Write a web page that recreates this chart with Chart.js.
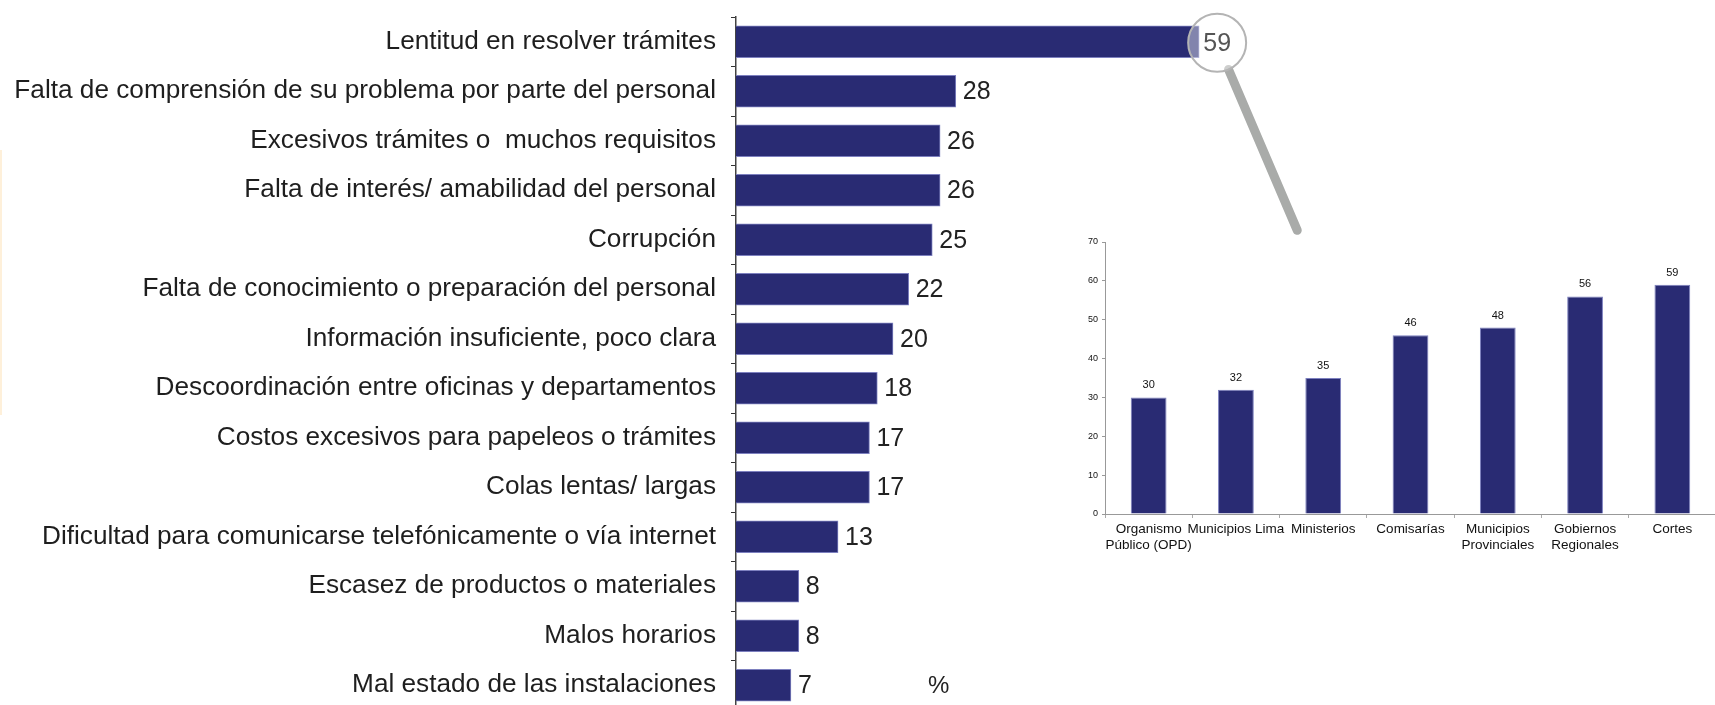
<!DOCTYPE html>
<html>
<head>
<meta charset="utf-8">
<script src="https://cdn.jsdelivr.net/npm/chart.js@4.4.0/dist/chart.umd.min.js"></script>
<style>
  html, body { margin: 0; padding: 0; background: #fff; overflow: hidden; width: 1715px; height: 705px; }
  #main { position: absolute; left: 0; top: 0; }
  #inset { position: absolute; left: 1040px; top: 225px; }
  #pct { position: absolute; left: 928px; top: 671px; font: 24px "Liberation Sans", Arial, sans-serif; color: #222; }
  #borde { position: absolute; left: 0; top: 150px; width: 2px; height: 265px; background: #fef0da; }
</style>
</head>
<body>
<div id="borde"></div>
<canvas id="main" width="1715" height="715"></canvas>
<canvas id="inset" width="700" height="330"></canvas>
<div id="pct">%</div>
<script>
// motivos de insatisfacción (%)
const motivos = [
    'Lentitud en resolver trámites',
    'Falta de comprensión de su problema por parte del personal',
    'Excesivos trámites o  muchos requisitos',
    'Falta de interés/ amabilidad del personal',
    'Corrupción',
    'Falta de conocimiento o preparación del personal',
    'Información insuficiente, poco clara',
    'Descoordinación entre oficinas y departamentos',
    'Costos excesivos para papeleos o trámites',
    'Colas lentas/ largas',
    'Dificultad para comunicarse telefónicamente o vía internet',
    'Escasez de productos o materiales',
    'Malos horarios',
    'Mal estado de las instalaciones'
];
const motivosPct = [59, 28, 26, 26, 25, 22, 20, 18, 17, 17, 13, 8, 8, 7];

// lentitud por tipo de entidad
const entidades = [
    ['Organismo', 'Público (OPD)'],
    'Municipios Lima',
    'Ministerios',
    'Comisarías',
    ['Municipios', 'Provinciales'],
    ['Gobiernos', 'Regionales'],
    'Cortes'
];
const entidadesPct = [30, 32, 35, 46, 48, 56, 59];

const azul = '#292b73';
const fuente = '"Liberation Sans", Arial, sans-serif';

// sin el relleno que chart.js agrega por la altura de las etiquetas
const sinRelleno = (axis) => { axis.paddingTop = 0; axis.paddingBottom = 0; };

// numeros al final de cada barra + la lupa en la primera
const etiquetasMain = {
    id: 'etiquetasMain',
    afterDatasetsDraw(chart) {
        const ctx = chart.ctx;
        const bars = chart.getDatasetMeta(0).data;
        ctx.save();
        bars.forEach((bar, i) => {
            const v = chart.data.datasets[0].data[i];
            if (i === 0) {
                const cx = bar.x + 18, cy = bar.y + 1, r = 29;
                const ang = Math.atan2(185, 79);
                ctx.strokeStyle = '#a9aba9';
                ctx.lineWidth = 9;
                ctx.lineCap = 'round';
                ctx.beginPath();
                ctx.moveTo(cx + Math.cos(ang) * r, cy + Math.sin(ang) * r);
                ctx.lineTo(cx + Math.cos(ang) * 204, cy + Math.sin(ang) * 204);
                ctx.stroke();
                ctx.beginPath();
                ctx.arc(cx, cy, r, 0, Math.PI * 2);
                ctx.fillStyle = 'rgba(255,255,255,0.42)';
                ctx.fill();
                ctx.lineWidth = 2;
                ctx.strokeStyle = '#b4b4b4';
                ctx.stroke();
                ctx.fillStyle = '#555';
                ctx.font = '25px ' + fuente;
                ctx.textAlign = 'center';
                ctx.textBaseline = 'middle';
                ctx.fillText(v, cx, cy + 1);
            } else {
                ctx.fillStyle = '#222';
                ctx.font = '25px ' + fuente;
                ctx.textAlign = 'left';
                ctx.textBaseline = 'middle';
                ctx.fillText(v, bar.x + 7, bar.y + 1);
            }
        });
        ctx.restore();
    }
};

const etiquetasInset = {
    id: 'etiquetasInset',
    afterDatasetsDraw(chart) {
        const ctx = chart.ctx;
        ctx.save();
        ctx.fillStyle = '#111';
        ctx.font = '11px ' + fuente;
        ctx.textAlign = 'center';
        ctx.textBaseline = 'middle';
        chart.getDatasetMeta(0).data.forEach((bar, i) => {
            ctx.fillText(chart.data.datasets[0].data[i], bar.x, bar.y - 12);
        });
        ctx.restore();
    }
};

new Chart(document.getElementById('main'), {
    type: 'bar',
    data: {
        labels: motivos,
        datasets: [{
            data: motivosPct,
            backgroundColor: azul,
            borderColor: '#7d80bf',
            borderWidth: 1,
            barThickness: 32
        }]
    },
    options: {
        indexAxis: 'y',
        responsive: false,
        animation: false,
        layout: { padding: { top: 17, bottom: 5, left: 0, right: 194 } },
        plugins: { legend: { display: false }, tooltip: { enabled: false } },
        scales: {
            x: { display: false, min: 0, max: 100 },
            y: {
                afterFit: (axis) => { axis.width = 736; sinRelleno(axis); },
                grid: { drawOnChartArea: false, offset: true, tickLength: 5, color: '#333' },
                border: { color: '#444', width: 1.5 },
                ticks: {
                    autoSkip: false,
                    padding: 15,
                    color: '#1e1e1e',
                    font: { family: fuente, size: 26.2 }
                }
            }
        }
    },
    plugins: [etiquetasMain]
});

new Chart(document.getElementById('inset'), {
    type: 'bar',
    data: {
        labels: entidades,
        datasets: [{
            data: entidadesPct,
            backgroundColor: azul,
            borderColor: '#7d80bf',
            borderWidth: 1,
            categoryPercentage: 1,
            barPercentage: 0.41
        }]
    },
    options: {
        responsive: false,
        animation: false,
        layout: { padding: { top: 17, right: 24, left: 0, bottom: 0 } },
        plugins: { legend: { display: false }, tooltip: { enabled: false } },
        scales: {
            y: {
                min: 0, max: 70,
                afterFit: (axis) => { axis.width = 65; sinRelleno(axis); },
                grid: { drawOnChartArea: false, tickLength: 3, color: '#999' },
                border: { color: '#999' },
                ticks: { stepSize: 10, padding: 4, color: '#111', font: { family: fuente, size: 9 } }
            },
            x: {
                afterFit: (axis) => { axis.height = 41; axis.paddingLeft = 0; axis.paddingRight = 0; },
                grid: { drawOnChartArea: false, offset: true, tickLength: 4, color: '#aaa' },
                border: { color: '#999' },
                ticks: {
                    autoSkip: false,
                    maxRotation: 0,
                    padding: 4,
                    color: '#111',
                    font: { family: fuente, size: 13.5, lineHeight: 1.15 }
                }
            }
        }
    },
    plugins: [etiquetasInset]
});
</script>
</body>
</html>
